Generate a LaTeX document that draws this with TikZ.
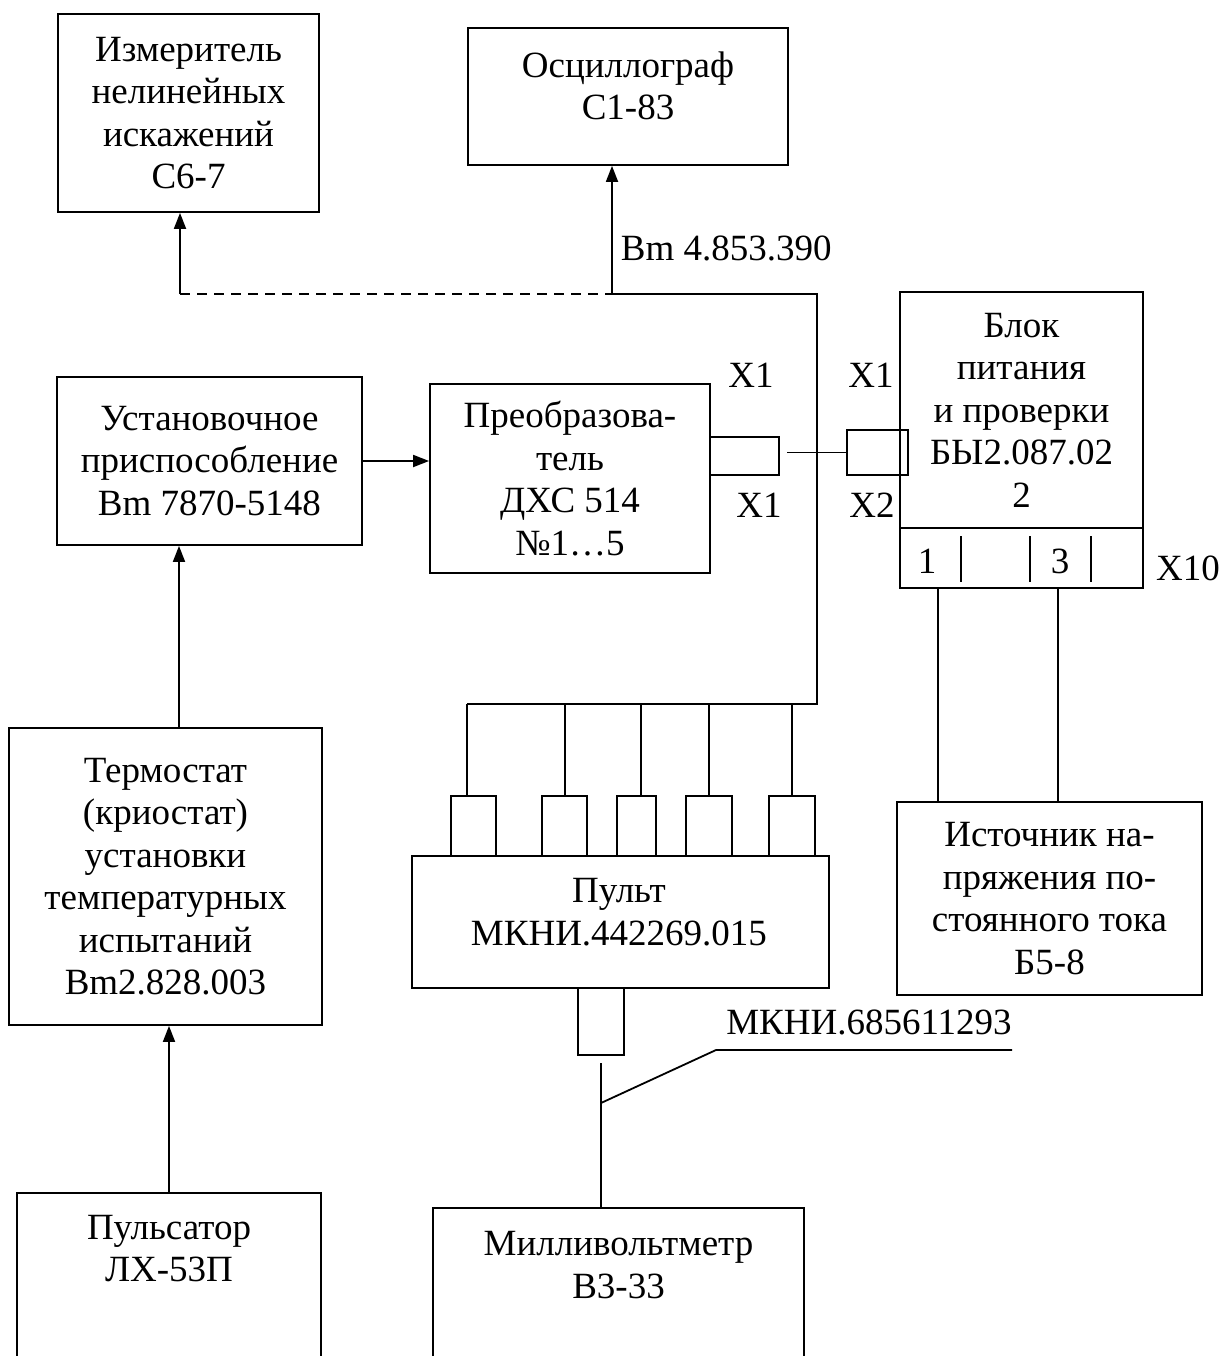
\documentclass[tikz,border=0pt]{standalone}
\usepackage{fontspec}
\setmainfont{Liberation Serif}
\usetikzlibrary{arrows.meta}

\begin{document}
\begin{tikzpicture}
	[x=1pt,y=-1pt,line width=1.8pt,
	every node/.style={font=\fontsize{37}{42.5}\selectfont,inner sep=0pt},
	box/.style={draw,rectangle,align=center},
	con/.style={draw,rectangle},
	arr/.style={-{Triangle[length=16pt,width=12pt]}}]
	\useasboundingbox (0,0) rectangle (1224,1356);
	\clip (0,0) rectangle (1224,1356);
	
	% top row
	\node[box,minimum width=261,minimum height=198] (izm) at (188.5,113)
	{Измеритель\\нелинейных\\искажений\\С6-7};
	\node[box,minimum width=320,minimum height=137] (osc) at (628,96.5) {};
	\node[align=center] (osct) at (628,86) {Осциллограф\\С1-83};
	
	% middle row
	\node[box,minimum width=305,minimum height=168] (ust) at (209.5,461)
	{Установочное\\приспособление\\Bm 7870-5148};
	\node[box,minimum width=280,minimum height=189] (pre) at (570,478.5)
	{Преобразова-\\тель\\ДХС 514\\№1…5};
	\node[con,minimum width=69,minimum height=38] (pk) at (744.5,456) {};
	\node[box,minimum width=243,minimum height=236] (blk) at (1021.5,410)
	{Блок\\питания\\и проверки\\БЫ2.087.02\\2};
	\node[con,minimum width=243,minimum height=60] (x10) at (1021.5,558) {};
	\node[con,minimum width=61,minimum height=45] (bk) at (877.5,452.5) {};
	
	\node[anchor=base] (x1a) at (751,387) {X1};
	\node[anchor=base] (x1b) at (759,517) {X1};
	\node[anchor=base] (x1c) at (871,387) {X1};
	\node[anchor=base] (x2) at (872,517) {X2};
	\node[anchor=base] (p1) at (927,573) {1};
	\node[anchor=base] (p3) at (1060,573) {3};
	\node[anchor=base] (x10t) at (1188,580) {X10};
	\foreach \qx in {961,1030,1091}
	\draw (\qx,536) -- (\qx,582);
	
	% lower part
	\node[box,minimum width=313,minimum height=297] (ter) at (165.5,876.5)
	{Термостат\\(криостат)\\установки\\температурных\\испытаний\\Bm2.828.003};
	\node[box,minimum width=304,minimum height=207] (puls) at (169,1296.5) {};
	\node[align=center] (pulst) at (169,1248.5) {Пульсатор\\ЛХ-53П};
	\node[box,minimum width=417,minimum height=132] (pnl) at (620.5,922) {};
	\node[align=center] (pnlt) at (619,912) {Пульт\\МКНИ.442269.015};
	\node[con,minimum width=46,minimum height=67] (pk2) at (601,1021.5) {};
	\node[box,minimum width=371,minimum height=192] (mv) at (618.5,1304) {};
	\node[align=center] (mvt) at (618.5,1265) {Милливольтметр\\В3-33};
	\node[box,minimum width=305,minimum height=193] (ist) at (1049.5,898.5)
	{Источник на-\\пряжения по-\\стоянного тока\\Б5-8};
	
	% wires
	\coordinate (dl) at (180,294);
	\coordinate (tj) at (612,294);
	\coordinate (tr) at (817,294);
	\coordinate (br) at (817,704);
	\coordinate (bl) at (467,704);
	\draw[dash pattern=on 10pt off 7pt] (dl) -- (tj);
	\draw[arr] (dl) -- (dl |- izm.south);
	\draw[arr] (tj) -- (tj |- osc.south);
	\node[anchor=base west] (osclab) at (620,260) {Bm 4.853.390};
	\draw (tj) -- (tr) -- (br) -- (bl);
	\foreach \n/\cx/\px/\ww in {1/473.5/467/45,2/564.5/565/45,3/636.5/641/39,4/709/709/46,5/792/792/46}
	{
		\node[con,minimum width=\ww,minimum height=60] (k\n) at (\cx,826) {};
		\draw (\px,704) -- (\px,0 |- k\n.north);
	}
	
	\draw[arr] (ust.east) -- (pre.west |- ust.east);
	\draw (bk.west) -- ([xshift=7pt]pk.east |- bk.west);
	\draw[arr] (179,0 |- ter.north) -- (179,0 |- ust.south);
	\draw[arr] (puls.north) -- (puls.north |- ter.south);
	\foreach \qx in {938,1058}
	\draw (\qx,0 |- x10.south) -- (\qx,0 |- ist.north);
	
	\coordinate (ms) at (601,1063);
	\coordinate (tap) at (601,1103);
	\coordinate (lk) at (716,1050);
	\coordinate (le) at (1012,1050);
	\draw (ms) -- (ms |- mv.north);
	\draw (tap) -- (lk) -- (le);
	\node[anchor=base] (cab) at (869,1034) {МКНИ.685611293};
\end{tikzpicture}
\end{document}
